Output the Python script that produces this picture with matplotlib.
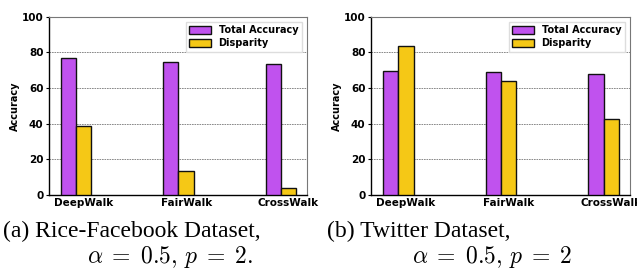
import numpy as np
import matplotlib
matplotlib.use("Agg")
import matplotlib.pyplot as plt

# data
methods = ["DeepWalk", "FairWalk", "CrossWalk"]
rice_total = [76.8, 74.8, 73.3]
rice_disparity = [38.9, 13.7, 3.7]
twitter_total = [69.5, 69.2, 68.0]
twitter_disparity = [83.6, 63.9, 42.8]
captions = [
    ("(a) Rice-Facebook Dataset,", r"$\alpha\;=\;0.5,\,p\;=\;2.$"),
    ("(b) Twitter Dataset,", r"$\alpha\;=\;0.5,\,p\;=\;2$"),
]

PURPLE = "#c052ee"
YELLOW = "#f5c816"

plt.rcParams["font.family"] = "DejaVu Sans"
plt.rcParams["mathtext.fontset"] = "cm"

fig = plt.figure(figsize=(6.37, 2.70), dpi=100)
ax_left = fig.add_axes([0.0769, 0.278, 0.405, 0.660])
ax_right = fig.add_axes([0.5824, 0.278, 0.4066, 0.660])


def draw_panel(ax, total, disparity):
    ind = np.arange(len(methods))
    width = 0.15
    ax.bar(ind, total, width, color=PURPLE, edgecolor="#111111", linewidth=1.0,
           label="Total Accuracy", zorder=3)
    ax.bar(ind + width, disparity, width, color=YELLOW, edgecolor="#111111",
           linewidth=1.0, label="Disparity", zorder=3)
    ax.set_xticks(ind + width)
    ax.set_xticklabels(methods, fontsize=7.5, fontweight="bold")
    ax.tick_params(axis="x", length=0, pad=2)
    ax.tick_params(axis="y", length=2.5, width=0.8, pad=1.5, labelsize=7.5)
    ax.set_ylim(0, 100)
    ax.set_yticks([0, 20, 40, 60, 80, 100])
    ax.set_yticklabels(["0", "20", "40", "60", "80", "100"], fontweight="bold")
    ax.set_xlim(-0.19, 2.33)
    ax.set_ylabel("Accuracy", fontsize=7, fontweight="bold", labelpad=1)
    ax.yaxis.grid(True, linestyle=(0, (2, 1)), color="#777777", linewidth=0.6, zorder=0)
    for side in ["left", "bottom"]:
        ax.spines[side].set_color("black")
        ax.spines[side].set_linewidth(1.0)
    for side in ["top", "right"]:
        ax.spines[side].set_color("#777777")
        ax.spines[side].set_linewidth(0.8)
    ax.legend(loc="upper right", prop={"size": 7, "weight": "bold"},
              handlelength=2.2, handleheight=0.9, borderpad=0.4,
              labelspacing=0.3, framealpha=1.0, edgecolor="#dddddd",
              fancybox=False)


draw_panel(ax_left, rice_total, rice_disparity)
draw_panel(ax_right, twitter_total, twitter_disparity)

serif = "Liberation Serif"
fig.text(0.005, 0.122, captions[0][0], family=serif, fontsize=17, va="baseline")
fig.text(0.1366, 0.026, captions[0][1], fontsize=17, va="baseline")
fig.text(0.513, 0.122, captions[1][0], family=serif, fontsize=17, va="baseline")
fig.text(0.647, 0.026, captions[1][1], fontsize=17, va="baseline")

fig.savefig("out.png", dpi=100)
